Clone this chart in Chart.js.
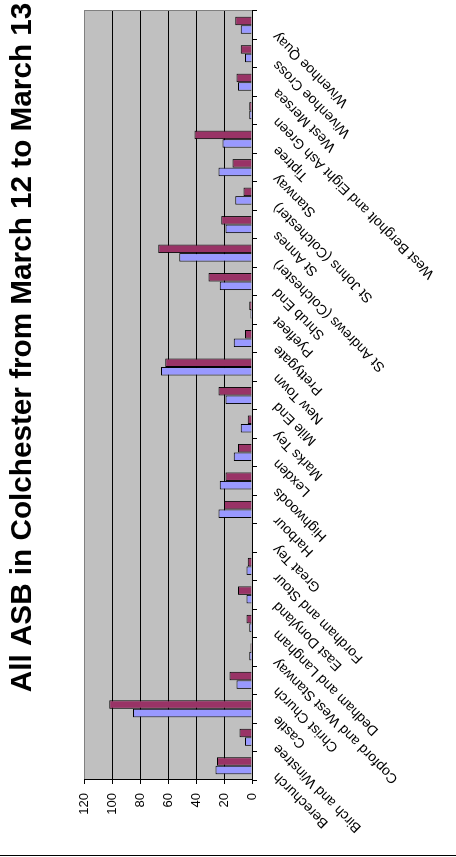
<!DOCTYPE html>
<html>
<head>
<meta charset="utf-8">
<script src="https://cdn.jsdelivr.net/npm/chart.js@4"></script>
<style>
    body { margin: 0; overflow: hidden; background: #fff; }
    #wrap { position: absolute; left: 0; top: 857px; width: 1019px; height: 456px; transform-origin: 0 0; transform: rotate(-90deg); }
</style>
</head>
<body>
<div id="wrap"><canvas id="asbChart" width="1019" height="456"></canvas></div>
<script>
// wards, left to right in the unrotated chart
const wards = ['Berechurch', 'Birch and Winstree', 'Castle', 'Christ Church', 'Copford and West Stanway',
    'Dedham and Langham', 'East Donyland', 'Fordham and Stour', 'Great Tey', 'Harbour', 'Highwoods',
    'Lexden', 'Marks Tey', 'Mile End', 'New Town', 'Prettygate', 'Pyefleet', 'Shrub End',
    'St Andrews (Colchester)', 'St Annes', 'St Johns (Colchester)', 'Stanway', 'Tiptree',
    'West Bergholt and Eight Ash Green', 'West Mersea', 'Wivenhoe Cross', 'Wivenhoe Quay'];
const series1 = [26, 5, 85, 11, 2, 2, 4, 4, 0, 24, 23, 13, 8, 19, 65, 13, 1, 23, 52, 19, 12, 24, 21, 2, 10, 5, 8];
const series2 = [25, 9, 102, 16, 1, 4, 10, 3, 0, 20, 19, 10, 3, 24, 62, 5, 2, 31, 67, 22, 6, 14, 41, 2, 11, 8, 12];
const valueMin = 0;
const valueMax = 120;
const valueStep = 20;
const chartTitle = 'All ASB in Colchester from March 12 to March 13';

// the chart is drawn landscape and turned a quarter turn by CSS
const W = 1019, H = 456;
const plotLeft = 77, plotRight = 846, plotBottom = 252;
const fontFamily = 'Arial, "Liberation Sans", sans-serif';

const plotBackground = {
    id: 'plotBackground',
    beforeDraw(chart) {
        const { ctx, chartArea: a } = chart;
        ctx.save();
        ctx.fillStyle = '#c0c0c0';
        ctx.fillRect(a.left, a.top, a.right - a.left, a.bottom - a.top);
        ctx.lineWidth = 1;
        ctx.strokeStyle = '#808080';
        ctx.beginPath(); ctx.moveTo(a.right + 0.5, a.top); ctx.lineTo(a.right + 0.5, a.bottom); ctx.stroke();
        ctx.strokeStyle = '#000';
        ctx.beginPath(); ctx.moveTo(1.5, 0); ctx.lineTo(1.5, chart.height); ctx.stroke();
        ctx.restore();
    }
};

new Chart(document.getElementById('asbChart').getContext('2d'), {
    type: 'bar',
    data: {
        labels: wards,
        datasets: [
            { label: 'Series 1', data: series1, backgroundColor: '#9999ff', borderColor: '#000', borderWidth: 1, borderSkipped: 'start', barPercentage: 1, categoryPercentage: 0.6 },
            { label: 'Series 2', data: series2, backgroundColor: '#993366', borderColor: '#000', borderWidth: 1, borderSkipped: 'start', barPercentage: 1, categoryPercentage: 0.6 }
        ]
    },
    options: {
        responsive: false, animation: false, devicePixelRatio: 1,
        layout: { padding: 0 },
        plugins: {
            legend: { display: false }, tooltip: { enabled: false },
            title: { display: true, text: chartTitle, color: '#000',
                font: { family: fontFamily, size: 29.7, weight: 'bold' },
                padding: { top: 4.9, bottom: 43.5 } }
        },
        scales: {
            x: {
                grid: { drawOnChartArea: false, tickLength: 5, color: '#000', offset: true },
                border: { color: '#000' },
                ticks: { autoSkip: false, minRotation: 45, maxRotation: 45, padding: 12.5, labelOffset: -9,
                    color: '#000', font: { family: fontFamily, size: 14 } },
                afterFit: s => { s.height = H - plotBottom; s.paddingLeft = 0; s.paddingRight = W - plotRight; }
            },
            y: {
                min: valueMin, max: valueMax,
                grid: { color: c => (c.tick && c.tick.value === valueMax) ? '#808080' : '#000', tickColor: '#000', tickLength: 4 },
                border: { color: '#000' },
                ticks: { stepSize: valueStep, padding: 9, color: '#000', font: { family: fontFamily, size: 13 } },
                afterFit: s => { s.width = plotLeft; }
            }
        }
    },
    plugins: [plotBackground]
});
</script>
</body>
</html>
